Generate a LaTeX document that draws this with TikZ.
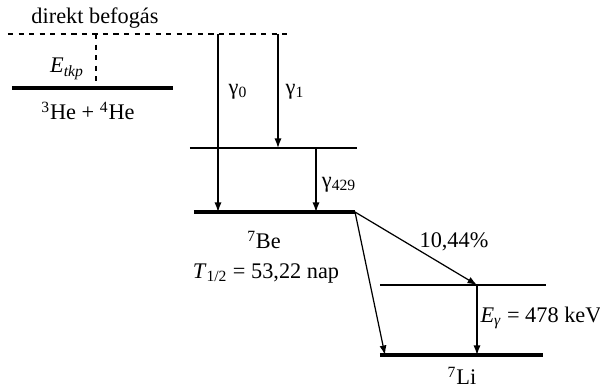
\documentclass[tikz,border=0pt]{standalone}
\usepackage{fontspec}
\setmainfont{Liberation Serif}
\usetikzlibrary{positioning,calc,arrows.meta}

\begin{document}
\begin{tikzpicture}[x=0.02cm, y=-0.02cm, >={Latex[length=1.9mm,width=1.4mm]}, font=\fontsize{12.7}{14}\selectfont, level/.style={line width=2pt}, sublevel/.style={line width=0.7pt}, trans/.style={->, line width=0.7pt}, lbl/.style={inner sep=1pt}]

\useasboundingbox (0,0) rectangle (600,388);

% alapszintek
\coordinate (he1) at (12,88);   \coordinate (he2) at (173,88);
\coordinate (dir1) at (8,34);   \coordinate (dir2) at (288,34);
\coordinate (ex1) at (190,148); \coordinate (ex2) at (357,148);
\coordinate (be1) at (194,212); \coordinate (be2) at (355,212);
\coordinate (li1) at (380,285); \coordinate (li2) at (546,285);
\coordinate (gs1) at (380,355); \coordinate (gs2) at (543,355);

\draw[dashed, line width=0.7pt] (dir1) -- (dir2);
\draw[level] (he1) -- (he2);
\draw[sublevel] (ex1) -- (ex2);
\draw[level] (be1) -- (be2);
\draw[sublevel] (li1) -- (li2);
\draw[level] (gs1) -- (gs2);

\coordinate (tkp1) at (96,34);  \coordinate (tkp2) at (96,88);
\draw[dashed, line width=0.7pt] (tkp1) -- (tkp2);

\node[lbl] (direkt) at (95,18) {direkt befogás};
\node[lbl] (etkp) at (67,69) {\textit{E}\textsubscript{\textit{tkp}}};
\node[lbl] (hehe) at (88,111) {\textsuperscript{3}He + \textsuperscript{4}He};

% gamma atmenetek
\coordinate (g0a) at (218,34);  \coordinate (g0b) at (218,212);
\coordinate (g1a) at (278,34);  \coordinate (g1b) at (278,148);
\coordinate (g4a) at (316,148); \coordinate (g4b) at (316,212);
\draw[trans] (g0a) -- (g0b);
\draw[trans] (g1a) -- (g1b);
\draw[trans] (g4a) -- (g4b);

\node[lbl] (gam0) at (238,92) {γ\textsubscript{0}};
\node[lbl] (gam1) at (295,92) {γ\textsubscript{1}};
\node[lbl] (gam4) at (339,185) {γ\textsubscript{429}};

\node[lbl] (be7) at (264,240) {\textsuperscript{7}Be};
\node[lbl] (thalf) at (266,273) {\textit{T}\textsubscript{1/2} = 53,22 nap};

% EC bomlas
\coordinate (lia) at (477,285); \coordinate (lib) at (477,355);
\coordinate (ecg) at (385,355);
\draw[trans] (be2) -- (lia);
\draw[trans] (be2) -- (ecg);
\draw[trans] (lia) -- (lib);

\node[lbl] (arany) at (454,242) {10,44\%};
\node[lbl] (egam) at (541,318) {\textit{E}\textsubscript{\textit{γ}} = 478 keV};
\node[lbl] (li7) at (462,376) {\textsuperscript{7}Li};

\end{tikzpicture}
\end{document}
